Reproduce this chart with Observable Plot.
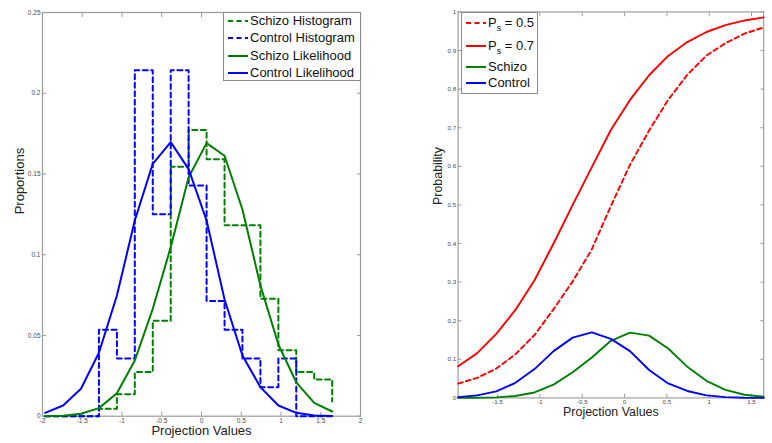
<!DOCTYPE html>
<html><head><meta charset="utf-8">
<script src="https://cdn.jsdelivr.net/npm/d3@7"></script>
<script src="https://cdn.jsdelivr.net/npm/@observablehq/plot@0.6"></script>
<style>
html,body{margin:0;padding:0;background:#fff;}
#wrap{position:relative;width:772px;height:443px;overflow:hidden;font-family:"Liberation Sans",Arial,Helvetica,sans-serif;background:#fff;}
.panel{position:absolute;top:0;}
.legend{position:absolute;background:#fff;border:1px solid #8a8a8a;box-sizing:border-box;font-size:13px;color:#111;}
.row{position:absolute;left:4px;display:flex;align-items:center;height:16px;white-space:nowrap;line-height:16px;}
.row svg{flex:none;margin-right:2px;}
sub{font-size:9px;vertical-align:-4px;line-height:0;}
</style></head><body><div id="wrap"></div>
<script>
// ---- data ----
const projX = [-1.967, -1.741, -1.516, -1.290, -1.064, -0.839, -0.613, -0.387, -0.162, 0.064, 0.290, 0.515, 0.741, 0.967, 1.192, 1.418, 1.644];
const schizoHist = [0, 0, 0, 0.0046, 0.0136, 0.0273, 0.0591, 0.1545, 0.1773, 0.1591, 0.1182, 0.1182, 0.0727, 0.0409, 0.0273, 0.0227, 0.0091];
const controlHist = [0, 0, 0, 0.0536, 0.0357, 0.2143, 0.1250, 0.2143, 0.1429, 0.0714, 0.0536, 0.0357, 0.0179, 0.0357, 0, 0, 0];
const schizoLik = [0.0001, 0.0003, 0.0015, 0.0050, 0.0142, 0.0345, 0.0665, 0.1047, 0.1480, 0.1691, 0.1613, 0.1280, 0.0810, 0.0444, 0.0210, 0.0083, 0.0029];
const controlLik = [0.0021, 0.0066, 0.0170, 0.0393, 0.0747, 0.1212, 0.1563, 0.1697, 0.1530, 0.1212, 0.0723, 0.0376, 0.0180, 0.0066, 0.0021, 0.0005, 0.0001];
const postPs05 = [0.037, 0.052, 0.076, 0.113, 0.163, 0.230, 0.302, 0.385, 0.497, 0.604, 0.693, 0.772, 0.837, 0.887, 0.919, 0.944, 0.960];
const postPs07 = [0.082, 0.116, 0.166, 0.228, 0.305, 0.400, 0.500, 0.598, 0.694, 0.772, 0.836, 0.886, 0.922, 0.948, 0.966, 0.978, 0.986];

const leftXTicks = [-2, -1.5, -1, -0.5, 0, 0.5, 1, 1.5, 2];
const leftYTicks = [0, 0.05, 0.1, 0.15, 0.2, 0.25];
const rightXTicks = [-1.5, -1, -0.5, 0, 0.5, 1, 1.5];
const rightYTicks = [0, 0.1, 0.2, 0.3, 0.4, 0.5, 0.6, 0.7, 0.8, 0.9, 1];

const leftLegend = ["Schizo Histogram", "Control Histogram", "Schizo Likelihood", "Control Likelihood"];
const rightLegend = ["P<sub>s</sub> = 0.5", "P<sub>s</sub> = 0.7", "Schizo", "Control"];
const xLabel = "Projection Values";
const leftYLabel = "Proportions";
const rightYLabel = "Probability";

// ---- styling ----
const FONT = '"Liberation Sans", Arial, Helvetica, sans-serif';
const GREEN = "#008000", BLUE = "#0000ff", RED = "#ff0000";
const AX = "#9a9a9a", TX = "#4a4a4a", LBL = "#222";
const DASH = "5,3.5";
const fmt = d => String(d);

const rows = projX.map((x, i) => ({
  x, schizoHist: schizoHist[i], controlHist: controlHist[i],
  schizoLik: schizoLik[i], controlLik: controlLik[i],
  p05: postPs05[i], p07: postPs07[i]
}));

function axes(xt, yt) {
  return [
    Plot.frame({stroke: AX, strokeWidth: 1.2}),
    Plot.axisX({ticks: xt, tickSize: -4, tickPadding: 6, stroke: AX, fill: TX, fontSize: 6.5, tickFormat: fmt, label: null}),
    Plot.axisX({anchor: "top", ticks: xt, tickSize: -4, stroke: AX, fill: "none"}),
    Plot.axisY({ticks: yt, tickSize: -4, tickPadding: 6, stroke: AX, fill: TX, fontSize: 6.5, tickFormat: fmt, label: null}),
    Plot.axisY({anchor: "right", ticks: yt, tickSize: -4, stroke: AX, fill: "none"})
  ];
}

const left = Plot.plot({
  width: 380, height: 443,
  marginLeft: 42, marginRight: 20, marginTop: 12, marginBottom: 27.3,
  x: {domain: [-2, 2]},
  y: {domain: [0, 0.25]},
  style: {fontFamily: FONT, fontSize: "6.5px", background: "transparent", overflow: "visible"},
  marks: [
    ...axes(leftXTicks, leftYTicks),
    Plot.line(rows, {x: "x", y: "schizoHist", curve: "step-after", stroke: GREEN, strokeWidth: 2, strokeDasharray: DASH}),
    Plot.line(rows, {x: "x", y: "controlHist", curve: "step-after", stroke: BLUE, strokeWidth: 2, strokeDasharray: DASH}),
    Plot.line(rows, {x: "x", y: "schizoLik", stroke: GREEN, strokeWidth: 2}),
    Plot.line(rows, {x: "x", y: "controlLik", stroke: BLUE, strokeWidth: 2}),
    Plot.text([xLabel], {text: d => d, frameAnchor: "bottom", dy: 18.7, fontSize: 13, fill: LBL}),
    Plot.text([leftYLabel], {text: d => d, frameAnchor: "left", dx: -23, rotate: -90, fontSize: 13, fill: LBL})
  ]
});

const right = Plot.plot({
  width: 410, height: 443,
  marginLeft: 81.2, marginRight: 9.2, marginTop: 12, marginBottom: 27.3,
  x: {domain: [projX[0], projX[projX.length - 1]]},
  y: {domain: [0, 1]},
  style: {fontFamily: FONT, fontSize: "6.5px", background: "transparent", overflow: "visible"},
  marks: [
    ...axes(rightXTicks, rightYTicks),
    Plot.line(rows, {x: "x", y: "p05", stroke: RED, strokeWidth: 2, strokeDasharray: DASH}),
    Plot.line(rows, {x: "x", y: "p07", stroke: RED, strokeWidth: 2}),
    Plot.line(rows, {x: "x", y: "schizoLik", stroke: GREEN, strokeWidth: 2}),
    Plot.line(rows, {x: "x", y: "controlLik", stroke: BLUE, strokeWidth: 2}),
    Plot.text([xLabel], {text: d => d, frameAnchor: "bottom", dy: 18.7, fontSize: 13, fill: LBL}),
    Plot.text([rightYLabel], {text: d => d, frameAnchor: "left", dx: -21, rotate: -90, fontSize: 13, fill: LBL})
  ]
});

const wrap = document.getElementById("wrap");
const p1 = document.createElement("div"); p1.className = "panel"; p1.style.left = "0px"; p1.appendChild(left);
const p2 = document.createElement("div"); p2.className = "panel"; p2.style.left = "380px"; p2.appendChild(right);
wrap.appendChild(p1); wrap.appendChild(p2);

function swatch(color, dashed) {
  return `<svg width="20" height="6"><line x1="0" y1="3" x2="20" y2="3" stroke="${color}" stroke-width="2"${dashed ? ` stroke-dasharray="${DASH}"` : ""}/></svg>`;
}
function legend(box, items, styles, tops) {
  const div = document.createElement("div");
  div.className = "legend";
  Object.assign(div.style, box);
  items.forEach((t, i) => {
    const r = document.createElement("div");
    r.className = "row";
    r.style.top = tops[i] + "px";
    r.innerHTML = swatch(styles[i][0], styles[i][1]) + `<span>${t}</span>`;
    div.appendChild(r);
  });
  wrap.appendChild(div);
}
legend({left: "223px", top: "12px", width: "138px", height: "69px"}, leftLegend,
  [[GREEN, true], [BLUE, true], [GREEN, false], [BLUE, false]], [0, 17.3, 34.5, 51.5]);
legend({left: "461px", top: "12px", width: "77px", height: "81.5px"}, rightLegend,
  [[RED, true], [RED, false], [GREEN, false], [BLUE, false]], [2, 24.7, 45.7, 62.3]);
</script></body></html>
